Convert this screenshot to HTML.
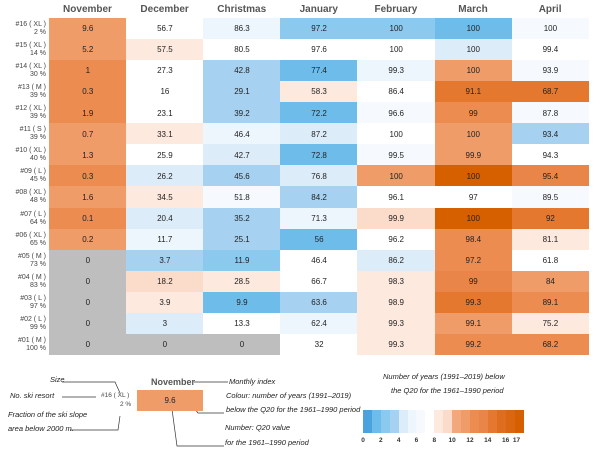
<!DOCTYPE html>
<html><head><meta charset="utf-8">
<style>
body{margin:0;background:#fff;font-family:"Liberation Sans",Arial,sans-serif;}
#wrap{position:relative;width:600px;height:450px;overflow:hidden;}
.hd{position:absolute;top:4px;font-size:10px;font-weight:bold;color:#555;text-align:center;width:77px;}
.cell{position:absolute;font-size:8px;color:#222;display:flex;align-items:center;justify-content:center;}
.rl{position:absolute;left:0;width:46px;text-align:right;font-size:7px;color:#444;line-height:8px;}
.it{position:absolute;font-size:7.5px;font-style:italic;color:#222;white-space:nowrap;}
</style></head><body>
<div id="wrap">
<svg id="lines" width="600" height="450" style="position:absolute;left:0;top:0"></svg>
</div>
<script>
const months=["November","December","Christmas","January","February","March","April"];
const resorts=["#16 ( XL )","#15 ( XL )","#14 ( XL )","#13  ( M )","#12 ( XL )","#11 ( S )","#10 ( XL )","#09 ( L )","#08 ( XL )","#07 ( L )","#06 ( XL )","#05 ( M )","#04 ( M )","#03 ( L )","#02 ( L )","#01 ( M )"];
const fractions=["2 %","14 %","30 %","39 %","39 %","39 %","40 %","45 %","48 %","64 %","65 %","73 %","83 %","97 %","99 %","100 %"];
const q20=[
["9.6","56.7","86.3","97.2","100","100","100"],
["5.2","57.5","80.5","97.6","100","100","99.4"],
["1","27.3","42.8","77.4","99.3","100","93.9"],
["0.3","16","29.1","58.3","86.4","91.1","68.7"],
["1.9","23.1","39.2","72.2","96.6","99","87.8"],
["0.7","33.1","46.4","87.2","100","100","93.4"],
["1.3","25.9","42.7","72.8","99.5","99.9","94.3"],
["0.3","26.2","45.6","76.8","100","100","95.4"],
["1.6","34.5","51.8","84.2","96.1","97","89.5"],
["0.1","20.4","35.2","71.3","99.9","100","92"],
["0.2","11.7","25.1","56","96.2","98.4","81.1"],
["0","3.7","11.9","46.4","86.2","97.2","61.8"],
["0","18.2","28.5","66.7","98.3","99","84"],
["0","3.9","9.9","63.6","98.9","99.3","89.1"],
["0","3","13.3","62.4","99.3","99.1","75.2"],
["0","0","0","32","99.3","99.2","68.2"]];
const years=[
[11,7,5,2,2,1,6],
[11,8,7,7,7,4,7],
[12,7,3,1,5,11,6],
[12,7,3,8,7,14,14],
[12,7,3,1,6,12,6],
[11,8,5,4,7,11,3],
[11,7,4,1,6,11,7],
[12,4,3,4,11,17,13],
[11,8,6,3,7,7,6],
[12,4,3,5,9,17,14],
[11,5,3,1,7,12,8],
[-1,3,2,7,4,12,7],
[-1,9,8,7,8,13,11],
[-1,8,1,3,8,14,12],
[-1,4,7,5,8,11,8],
[-1,-1,-1,7,8,12,12]];
const legendTicks=[0,2,4,6,8,10,12,14,16,17];
const pal=["#4aa3df","#6dbce9","#8cc9ef","#a6d1f0","#dcecf9","#eef6fd","#f6fafe","#ffffff","#fde9de","#fbdccb","#f3a77c","#f09c68","#ec8c50","#e98548","#e4782f","#df6d20","#da6612","#d65f00"];
function color(v){return v<0?"#bebebe":pal[Math.max(0,Math.min(17,Math.round(v)))];}
const X0=49,CW=77.1,Y0=18,RH=21.06;
function xs(i){return X0+i*CW;}
function ys(j){return Y0+j*RH;}
const W=document.getElementById('wrap');
months.forEach((m,i)=>{const d=document.createElement('div');d.className='hd';d.style.left=xs(i)+'px';d.textContent=m;


W.appendChild(d);});
resorts.forEach((r,j)=>{const d=document.createElement('div');d.className='rl';d.style.top=(ys(j)+3)+'px';d.innerHTML=r+'<br>'+fractions[j];


W.appendChild(d);
for(let i=0;i<months.length;i++){const c=document.createElement('div');c.className='cell';
c.style.left=xs(i)+'px';c.style.top=ys(j)+'px';c.style.width=(CW+0.5)+'px';c.style.height=(RH+0.5)+'px';
c.style.background=color(years[j][i]);c.textContent=q20[j][i];


W.appendChild(c);}});
const CB0=363,CB1=519,CBY=410,CBH=23;
function cbx(v){return CB0+(v/17.5)*(CB1-CB0);}
for(let k=0;k<=17;k++){const b=document.createElement('div');b.style.cssText='position:absolute;top:'+CBY+'px;height:'+CBH+'px;left:'+cbx(k)+'px;width:'+(cbx(1)-cbx(0)+0.4)+'px;background:'+pal[k];


W.appendChild(b);}
legendTicks.forEach(t=>{const d=document.createElement('div');d.style.cssText='position:absolute;top:437px;font-size:6.5px;font-weight:bold;color:#333;width:14px;text-align:center;left:'+(cbx(t)-7+(t==17?2:0))+'px';d.textContent=t;


W.appendChild(d);});
function txt(x,y,s,name,extra){const d=document.createElement('div');d.className='it';d.style.left=x+'px';d.style.top=y+'px';d.innerHTML=s;if(extra)d.style.cssText+=extra;


W.appendChild(d);}
txt(383,372,'Number of years (1991–2019) below','colorbar-title');
txt(391,386,'the Q20 for the 1961–1990 period','colorbar-title');
txt(50,375,'Size','legend-size-label');
txt(10,391,'No. ski resort','legend-resort-label');
txt(8,410,'Fraction of the ski slope','legend-fraction-label');
txt(8,424,'area below 2000 m.','legend-fraction-label');
txt(101,392,'#16 ( XL )','legend-example-resort','font-style:normal;font-size:6.5px;color:#444');
txt(120,401,'2 %','legend-example-fraction','font-style:normal;font-size:6.5px;color:#444');
txt(151,377,'November','legend-month','font-style:normal;font-weight:bold;font-size:9px;color:#555');
txt(229,377,'Monthly index','legend-monthly-index');
txt(226,391,'Colour: number of years (1991–2019)','legend-colour-note');
txt(226,405,'below the Q20 for the 1961–1990 period','legend-colour-note');
txt(225,423,'Number: Q20 value','legend-number-note');
txt(225,438,'for the 1961–1990 period','legend-number-note');
const ex=document.createElement('div');ex.className='cell';ex.style.cssText='left:137px;top:390px;width:66px;height:21px;background:#f09c68;';ex.textContent='9.6';


W.appendChild(ex);
document.getElementById('lines').innerHTML=
'<g stroke="#333" stroke-width="0.7" fill="none">'+
'<polyline points="62,382 115,382 120,393"/>'+
'<line x1="62" y1="397" x2="96" y2="397"/>'+
'<polyline points="70,430 118,430 120,416"/>'+
'<line x1="194" y1="382" x2="228" y2="382"/>'+
'<polyline points="192,405 198,413 224,413"/>'+
'<polyline points="171,402 177,446 224,446"/>'+
'</g>';
</script>
</body></html>
